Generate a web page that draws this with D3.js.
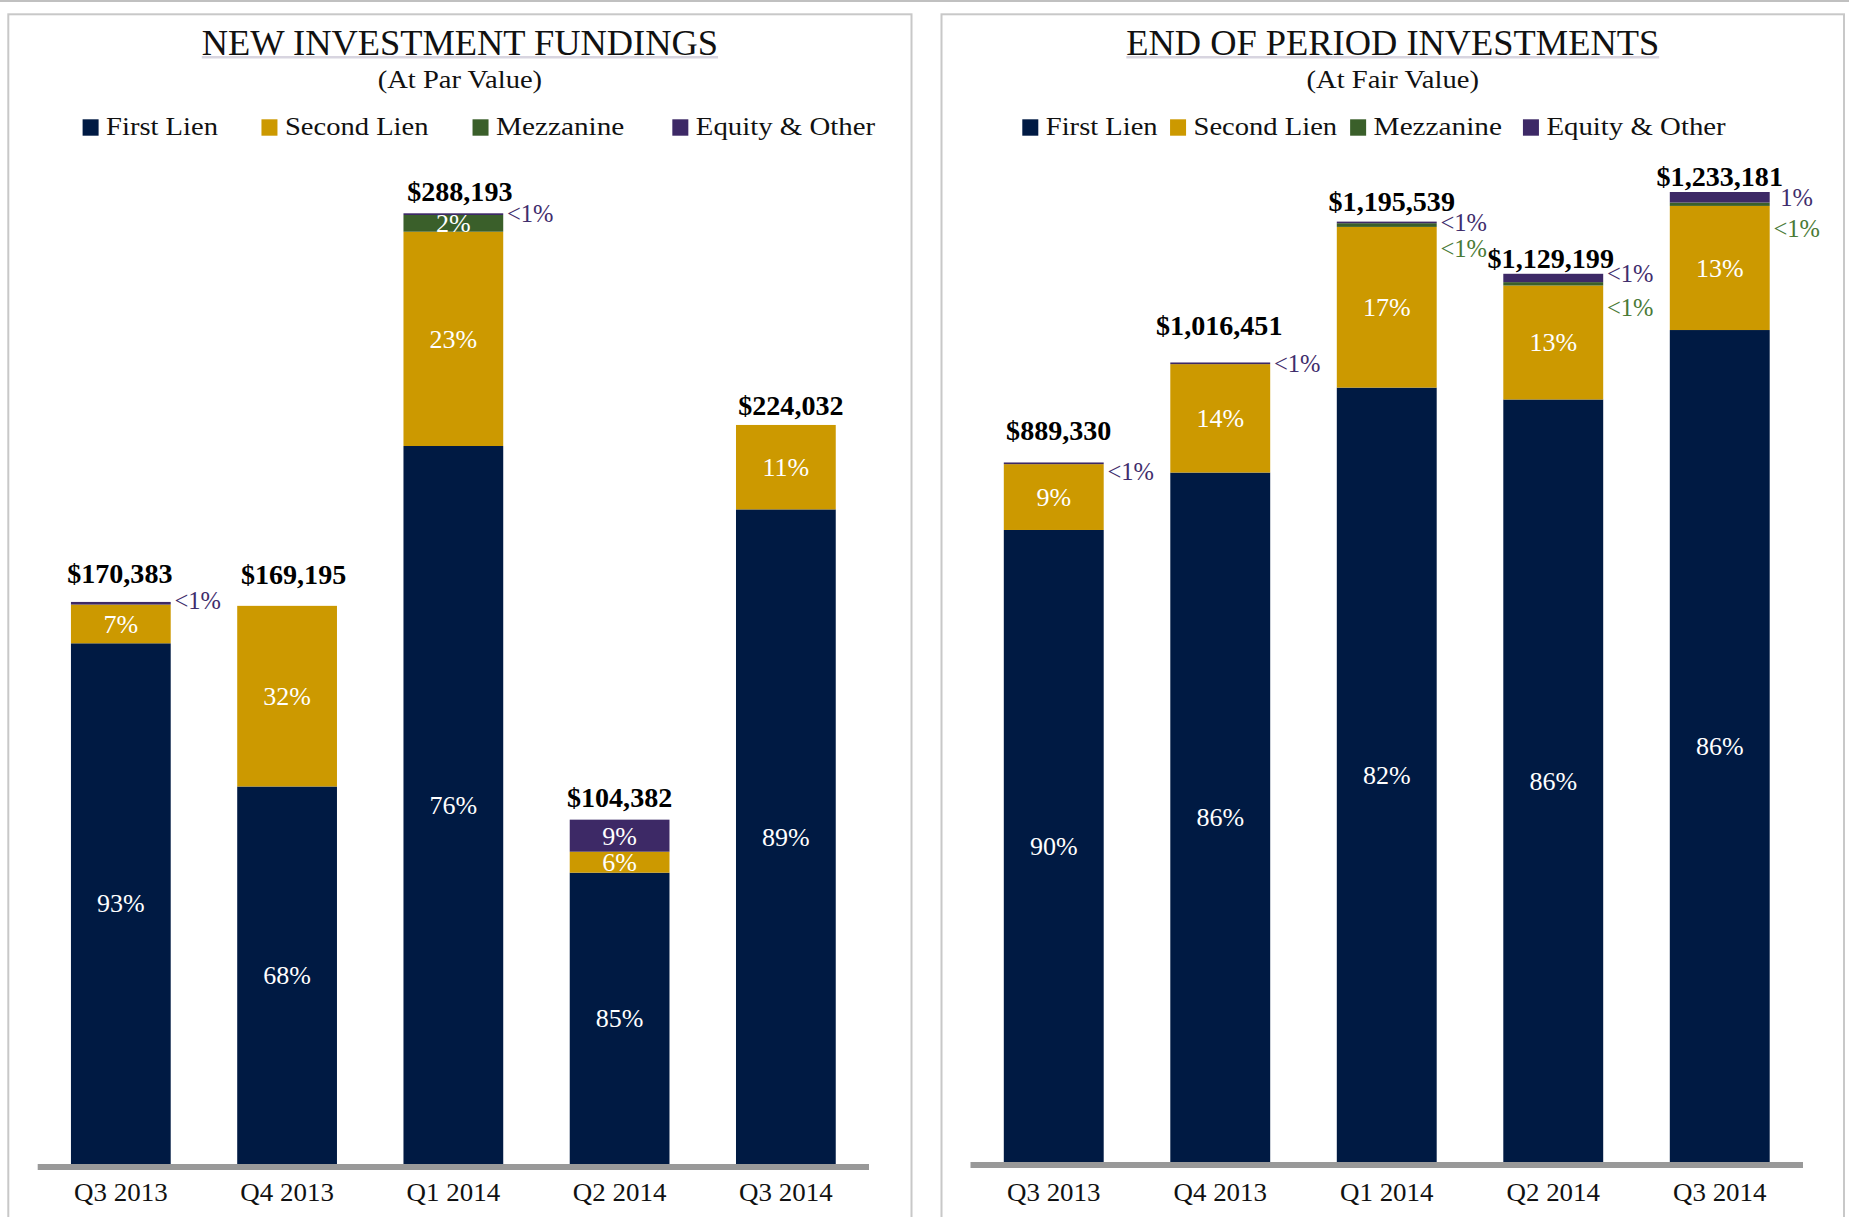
<!DOCTYPE html>
<html><head><meta charset="utf-8">
<script src="https://cdn.jsdelivr.net/npm/d3@7"></script>
<style>
html,body{margin:0;padding:0;background:#fff;}
svg{display:block;}
text{font-family:"Liberation Serif","Times New Roman",serif;}
</style></head><body>
<svg id="chart" width="1849" height="1217"></svg>
<script>
// ---------- DATA ($ thousands) ----------
const categories = ["Q3 2013","Q4 2013","Q1 2014","Q2 2014","Q3 2014"];
const seriesNames = ["First Lien","Second Lien","Mezzanine","Equity & Other"];

// New investment fundings (at par value)
const newTotals      = [170383, 169195, 288193, 104382, 224032];
const newFirstLien   = [157845, 114436, 217650,  88305, 198436];
const newSecondLien  = [ 11738,  54759,  64966,   6366,  25596];
const newMezzanine   = [     0,      0,   5062,      0,      0];
const newEquity      = [   800,      0,    515,   9711,      0];

// End of period investments (at fair value)
const eopTotals      = [889330, 1016451, 1195539, 1129199, 1233181];
const eopFirstLien   = [803500,  876500,  984500,  969400, 1057700];
const eopSecondLien  = [ 83700,  137850,  204300,  144900,  157800];
const eopMezzanine   = [     0,       0,    4700,    4300,    4300];
const eopEquity      = [  2130,    2101,    2039,   10599,   13381];

// ---------- STYLE / LAYOUT ----------
const colors = {"First Lien":"#001a43","Second Lien":"#cc9900","Mezzanine":"#3a5f2a","Equity & Other":"#3d2966"};
const outsideColors = {"Mezzanine":"#4a7a36","Equity & Other":"#3f2d6c"};
const legendStretch = [1.12, 1.12, 1.147, 1.13];

const panels = [
  {title:"NEW INVESTMENT FUNDINGS", subtitle:"(At Par Value)", totals:newTotals,
   series:[newFirstLien,newSecondLien,newMezzanine,newEquity],
   left:8.3, right:911.5, axis:[37.7,869], base:1164, top:213.3,
   legendX:82.6, legendGaps:[43.5,44,48], labelGap:[19,22,12,13,10], labelDx:[-1,6.5,6.5,0,5], outNudge:[-3,0,0,0,0]},
  {title:"END OF PERIOD INVESTMENTS", subtitle:"(At Fair Value)", totals:eopTotals,
   series:[eopFirstLien,eopSecondLien,eopMezzanine,eopEquity],
   left:941.5, right:1844, axis:[970.5,1803], base:1162, top:192,
   legendX:1022.3, legendGaps:[12.4,13,21], labelGap:[22,27,11,6,6], labelDx:[5,-1,5,-2.5,0], outNudge:[8,0,0,-4,0]}
];

const svg = d3.select("#chart");

function stretch(sel, f){
  sel.each(function(){
    const w = this.getComputedTextLength();
    d3.select(this).attr("textLength", w*f).attr("lengthAdjust","spacingAndGlyphs");
  });
}

// top gray band
svg.append("rect").attr("x",0).attr("y",0).attr("width",1849).attr("height",2).attr("fill","#c0c0c0");

panels.forEach(p => {
  const g = svg.append("g");
  // panel frame
  g.append("rect").attr("x",p.left).attr("y",14.3).attr("width",p.right-p.left).attr("height",1300)
    .attr("fill","none").attr("stroke","#c8c8c8").attr("stroke-width",2);

  const cx = (p.left+p.right)/2;
  // title
  const t = g.append("text").attr("x",cx).attr("y",55).attr("text-anchor","middle")
    .attr("font-size",35).attr("fill","#111").text(p.title);
  stretch(t,1.04);
  const tw = +t.attr("textLength");
  g.append("line").attr("x1",cx-tw/2).attr("x2",cx+tw/2).attr("y1",57.3).attr("y2",57.3)
    .attr("stroke","#d8d5e0").attr("stroke-width",2.4);
  const st = g.append("text").attr("x",cx).attr("y",87.5).attr("text-anchor","middle")
    .attr("font-size",25.5).attr("fill","#111").text(p.subtitle);
  stretch(st,1.12);

  // legend
  let lx = p.legendX;
  seriesNames.forEach((s,k) => {
    g.append("rect").attr("x",lx).attr("y",119.3).attr("width",16).attr("height",16.4).attr("fill",colors[s]);
    const lt = g.append("text").attr("x",lx+23.5).attr("y",134.5).attr("font-size",25.5).attr("fill","#111").text(s);
    stretch(lt,legendStretch[k]);
    lx += 23.5 + (+lt.attr("textLength")) + (p.legendGaps[k] || 0);
  });

  // scales
  const x = d3.scaleBand().domain(categories).range(p.axis).paddingInner(0.4).paddingOuter(0.2);
  const y = d3.scaleLinear().domain([0, d3.max(p.totals)]).range([p.base, p.top]);

  const rows = categories.map((c,i) => {
    const r = {cat:c, total:p.totals[i], idx:i};
    seriesNames.forEach((s,k) => r[s] = p.series[k][i]);
    return r;
  });
  const stacked = d3.stack().keys(seriesNames)(rows);

  stacked.forEach(layer => {
    const s = layer.key;
    layer.forEach(d => {
      const v = d[1]-d[0];
      if (v <= 0) return;
      const y0 = y(d[0]), y1 = y(d[1]);
      const bx = x(d.data.cat), bw = x.bandwidth();
      g.append("rect").attr("x",bx).attr("y",y1).attr("width",bw).attr("height",y0-y1).attr("fill",colors[s]);
      const pct = v/d.data.total*100;
      const lab = pct < 1 ? "<1%" : Math.round(pct)+"%";
      const h = y0-y1, mid = (y0+y1)/2;
      if (h >= 14) {
        g.append("text").attr("x",bx+bw/2).attr("y",mid).attr("dy","0.34em").attr("text-anchor","middle")
          .attr("font-size",26).attr("fill","#ffffff").text(lab);
      } else {
        const off = s === "Mezzanine" ? 24 : p.outNudge[d.data.idx];
        g.append("text").attr("x",bx+bw+27).attr("y",mid+off).attr("dy","0.34em").attr("text-anchor","middle")
          .attr("font-size",24.5).attr("fill",outsideColors[s] || "#333").text(lab);
      }
    });
  });

  // total labels
  rows.forEach((r,i) => {
    const vt = g.append("text").attr("x",x(r.cat)+x.bandwidth()/2+p.labelDx[i]).attr("y",y(r.total)-p.labelGap[i])
      .attr("text-anchor","middle").attr("font-size",27).attr("font-weight","bold").attr("fill","#000")
      .text("$"+d3.format(",")(r.total));
    stretch(vt,1.04);
  });

  // axis baseline
  g.append("rect").attr("x",p.axis[0]).attr("y",p.base).attr("width",p.axis[1]-p.axis[0]).attr("height",6).attr("fill","#999999");

  // category axis
  const ax = g.append("g").attr("transform",`translate(0,${p.base})`)
    .call(d3.axisBottom(x).tickSize(0));
  ax.select(".domain").remove();
  ax.selectAll("text").attr("y",1201-p.base).attr("dy",0)
    .attr("font-size",24.5).attr("fill","#111")
    .style("font-family",'"Liberation Serif","Times New Roman",serif');
  stretch(ax.selectAll("text"),1.1);
});
</script>
</body></html>
